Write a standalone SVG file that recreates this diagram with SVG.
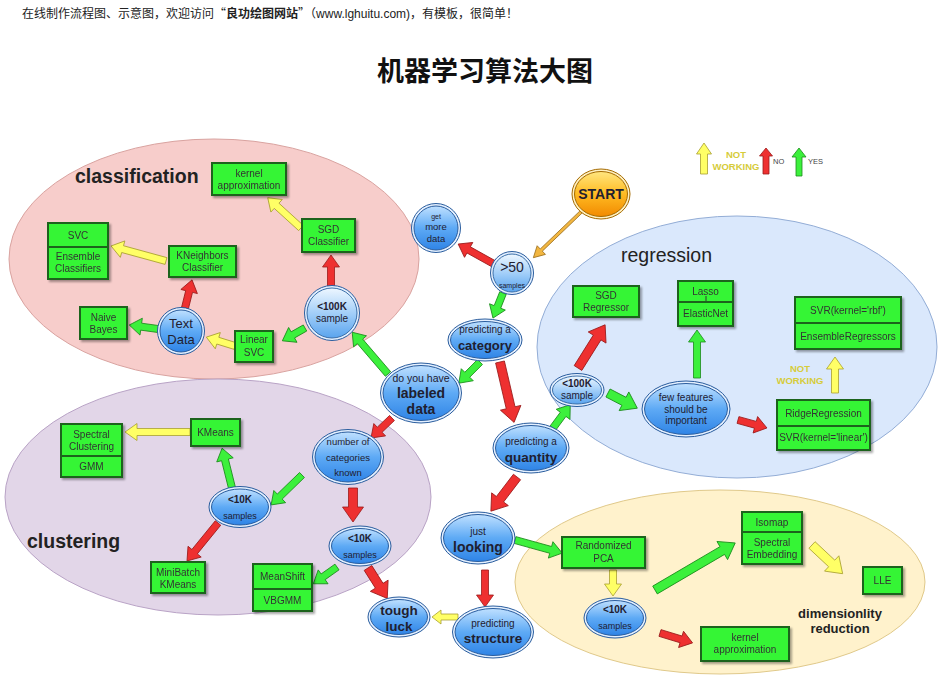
<svg xmlns="http://www.w3.org/2000/svg" width="944" height="684" viewBox="0 0 944 684">
<defs>
<linearGradient id="gb" x1="0" y1="0" x2="0" y2="1"><stop offset="0" stop-color="#bfe0ff"/><stop offset="0.5" stop-color="#5eaaf5"/><stop offset="1" stop-color="#2f84e6"/></linearGradient>
<linearGradient id="gp" x1="0" y1="0" x2="0" y2="1"><stop offset="0" stop-color="#eef7ff"/><stop offset="0.55" stop-color="#9ccbf8"/><stop offset="1" stop-color="#5aa4ee"/></linearGradient>
<linearGradient id="go" x1="0" y1="0" x2="0" y2="1"><stop offset="0" stop-color="#ffe680"/><stop offset="0.5" stop-color="#ffbb22"/><stop offset="1" stop-color="#f28a00"/></linearGradient>
<filter id="sh" x="-20%" y="-20%" width="140%" height="150%"><feDropShadow dx="2" dy="2" stdDeviation="1" flood-color="#000" flood-opacity="0.35"/></filter>
<style>
.t{font-family:"Liberation Sans",Arial,sans-serif;text-anchor:middle;fill:#1f2030}
.b{font-weight:bold}
.bx{fill:#36f536;stroke:#1d641d;stroke-width:2}
.bt{font-family:"Liberation Sans",Arial,sans-serif;font-size:10px;text-anchor:middle;fill:#333}
.o{fill:#e4f0ff;stroke:#2a5d9e;stroke-width:1}
.i{fill:url(#gb);stroke:#2a5d9e;stroke-width:1}
.ip{fill:url(#gp);stroke:#3a6ea8;stroke-width:1}
.r{fill:#ee3030;stroke:#9a1a1a;stroke-width:0.8}
.g{fill:#3cf03c;stroke:#1a8a1a;stroke-width:0.8}
.y{fill:#ffff66;stroke:#a8a030;stroke-width:0.8}
.lbl{font-family:"Liberation Sans",Arial,sans-serif;fill:#222}
.nw{font-family:"Liberation Sans",Arial,sans-serif;font-weight:bold;font-size:9.5px;fill:#d6cc3a;text-anchor:middle}
</style>
</defs>
<rect width="944" height="684" fill="#fff"/>

<text x="22" y="18" font-family="'Noto Sans CJK SC','Liberation Sans',sans-serif" font-size="12" fill="#222">在线制作流程图、示意图，欢迎访问“<tspan font-weight="bold">良功绘图网站</tspan>”（<tspan font-family="'Liberation Sans',sans-serif">www.lghuitu.com)</tspan>，有模板，很简单！</text>
<text x="485" y="81" font-family="'Noto Sans CJK SC',sans-serif" font-size="27" font-weight="bold" text-anchor="middle" fill="#111">机器学习算法大图</text>

<g id="regions">
<ellipse cx="214" cy="259" rx="205" ry="120" fill="#f7cdcb" stroke="#d9a3a0" stroke-width="1"/>
<ellipse cx="218" cy="497" rx="213" ry="118" fill="#e2d6e8" stroke="#b9a3c6" stroke-width="1"/>
<ellipse cx="737" cy="347" rx="200" ry="131" fill="#dae8fc" stroke="#93add6" stroke-width="1"/>
<ellipse cx="720" cy="582" rx="205" ry="92" fill="#fff2cc" stroke="#e0c98a" stroke-width="1"/>
<text class="lbl" x="75" y="183" font-size="19.5" font-weight="bold">classification</text>
<text class="lbl" x="621" y="262" font-size="19.5">regression</text>
<text class="lbl" x="27" y="548" font-size="19.5" font-weight="bold">clustering</text>
<text class="lbl" x="840" y="618" font-size="13" font-weight="bold" text-anchor="middle">dimensionlity</text>
<text class="lbl" x="840" y="633" font-size="13" font-weight="bold" text-anchor="middle">reduction</text>
</g>

<g id="legend">
<path class="y" transform="translate(704,174) rotate(-90)" d="M0,-3.5H20V-7.5L31,0L20,7.5V3.5H0Z"/>
<text class="nw" x="736" y="158">NOT</text>
<text class="nw" x="736" y="170">WORKING</text>
<path class="r" transform="translate(766,174) rotate(-90)" d="M0,-3H18V-6.5L26,0L18,6.5V3H0Z"/>
<text x="773" y="164" font-family="'Liberation Sans',Arial,sans-serif" font-size="7.5" fill="#444">NO</text>
<path class="g" transform="translate(799,176) rotate(-90)" d="M0,-3H19V-7L28,0L19,7V3H0Z"/>
<text x="808" y="164" font-family="'Liberation Sans',Arial,sans-serif" font-size="7.5" fill="#444">YES</text>
</g>

<g id="connectors">
<path transform="translate(581,212) rotate(136.2)" d="M0,-1.5H55V-6L66,0L55,6V1.5H0Z" fill="#f2b640" stroke="#9c7020" stroke-width="0.8"/>
<path class="r" transform="translate(494,264) rotate(-150.9)" d="M0,-3.5H29V-8.5L41,0L29,8.5V3.5H0Z"/>
<path class="g" transform="translate(503,293) rotate(111.8)" d="M0,-3.5H15V-8.5L27,0L15,8.5V3.5H0Z"/>
<path class="g" transform="translate(480,362) rotate(135)" d="M0,-3.5H18V-8.5L30,0L18,8.5V3.5H0Z"/>
<path class="r" transform="translate(500,362) rotate(76.9)" d="M0,-4.5H47V-10.5L62,0L47,10.5V4.5H0Z"/>
<path class="g" transform="translate(388,374) rotate(-130.6)" d="M0,-3.5H43V-8.5L55,0L43,8.5V3.5H0Z"/>
<path class="r" transform="translate(331,286) rotate(-90)" d="M0,-3.5H19V-8.5L31,0L19,8.5V3.5H0Z"/>
<path class="y" transform="translate(301,228) rotate(-137.7)" d="M0,-3.5H33V-8.5L45,0L33,8.5V3.5H0Z"/>
<path class="g" transform="translate(305,328) rotate(150.5)" d="M0,-3.5H14V-8.5L26,0L14,8.5V3.5H0Z"/>
<path class="y" transform="translate(235,346) rotate(-162.8)" d="M0,-3.5H18V-8.5L30,0L18,8.5V3.5H0Z"/>
<path class="g" transform="translate(158,329) rotate(-172.1)" d="M0,-3.5H17V-8.5L29,0L17,8.5V3.5H0Z"/>
<path class="r" transform="translate(185,308) rotate(-76)" d="M0,-3.5H17V-8.5L29,0L17,8.5V3.5H0Z"/>
<path class="y" transform="translate(166,261) rotate(-164.7)" d="M0,-3.5H45V-8.5L57,0L45,8.5V3.5H0Z"/>
<path class="r" transform="translate(392,418) rotate(136.4)" d="M0,-3.5H17V-8.5L29,0L17,8.5V3.5H0Z"/>
<path class="r" transform="translate(353,488) rotate(90)" d="M0,-4.5H19V-10.5L34,0L19,10.5V4.5H0Z"/>
<path class="g" transform="translate(302,475) rotate(135.9)" d="M0,-3.5H31V-8.5L43,0L31,8.5V3.5H0Z"/>
<path class="g" transform="translate(232,488) rotate(-104)" d="M0,-3.5H29V-8.5L41,0L29,8.5V3.5H0Z"/>
<path class="y" transform="translate(190,432) rotate(180)" d="M0,-3.5H53V-8.5L65,0L53,8.5V3.5H0Z"/>
<path class="r" transform="translate(218,523) rotate(129.2)" d="M0,-3.5H37V-8.5L49,0L37,8.5V3.5H0Z"/>
<path class="g" transform="translate(337,567) rotate(144.7)" d="M0,-3.5H17V-8.5L29,0L17,8.5V3.5H0Z"/>
<path class="r" transform="translate(368,568) rotate(57.7)" d="M0,-4.5H21V-10.5L36,0L21,10.5V4.5H0Z"/>
<path class="r" transform="translate(517,477) rotate(127.4)" d="M0,-4.5H28V-10.5L43,0L28,10.5V4.5H0Z"/>
<path class="g" transform="translate(553,428) rotate(-53.5)" d="M0,-3.5H17V-8.5L29,0L17,8.5V3.5H0Z"/>
<path class="r" transform="translate(578,368) rotate(-57.9)" d="M0,-4.5H36V-10.5L51,0L36,10.5V4.5H0Z"/>
<path class="g" transform="translate(608,393) rotate(27.4)" d="M0,-4.5H18V-10.5L33,0L18,10.5V4.5H0Z"/>
<path class="g" transform="translate(697,378) rotate(-90)" d="M0,-3.5H36V-8.5L48,0L36,8.5V3.5H0Z"/>
<path class="r" transform="translate(738,420) rotate(15.4)" d="M0,-3.5H18V-8.5L30,0L18,8.5V3.5H0Z"/>
<path class="y" transform="translate(835,393) rotate(-90)" d="M0,-3.5H24V-8.5L36,0L24,8.5V3.5H0Z"/>
<path class="g" transform="translate(515,540) rotate(15.5)" d="M0,-3.5H37V-8.5L49,0L37,8.5V3.5H0Z"/>
<path class="r" transform="translate(485,570) rotate(90)" d="M0,-3.5H25V-8.5L37,0L25,8.5V3.5H0Z"/>
<path class="y" transform="translate(458,617) rotate(180)" d="M0,-3H17V-7L26,0L17,7V3H0Z"/>
<path class="y" transform="translate(613,570) rotate(90)" d="M0,-3.5H14V-8.5L26,0L14,8.5V3.5H0Z"/>
<path class="r" transform="translate(660,633) rotate(16.9)" d="M0,-3.5H22V-8.5L34,0L22,8.5V3.5H0Z"/>
<path class="g" transform="translate(655,590) rotate(-30.4)" d="M0,-4.5H78V-10.5L93,0L78,10.5V4.5H0Z"/>
<path class="y" transform="translate(812,545) rotate(43.1)" d="M0,-4.5H27V-10.5L42,0L27,10.5V4.5H0Z"/>
</g>

<g id="boxes" filter="url(#sh)">
<g id="kernel-approx-class"><rect class="bx" x="212" y="163" width="74" height="32"/><text class="bt" x="249" y="177">kernel</text><text class="bt" x="249" y="189">approximation</text></g>
<g id="sgd-classifier"><rect class="bx" x="302" y="219" width="53" height="33"/><text class="bt" x="328.5" y="233">SGD</text><text class="bt" x="328.5" y="245">Classifier</text></g>
<g id="svc"><rect class="bx" x="48" y="223" width="60" height="24"/><text class="bt" x="78" y="239">SVC</text><rect class="bx" x="48" y="247" width="60" height="32"/><text class="bt" x="78" y="260">Ensemble</text><text class="bt" x="78" y="272">Classifiers</text></g>
<g id="kneighbors"><rect class="bx" x="169" y="246" width="67" height="31"/><text class="bt" x="202.5" y="259">KNeighbors</text><text class="bt" x="202.5" y="271">Classifier</text></g>
<g id="naive-bayes"><rect class="bx" x="80" y="307" width="47" height="32"/><text class="bt" x="103.5" y="321">Naive</text><text class="bt" x="103.5" y="333">Bayes</text></g>
<g id="linear-svc"><rect class="bx" x="235" y="331" width="38" height="31"/><text class="bt" x="254" y="343">Linear</text><text class="bt" x="254" y="356">SVC</text></g>
<g id="sgd-regressor"><rect class="bx" x="573" y="286" width="66" height="31"/><text class="bt" x="606" y="299">SGD</text><text class="bt" x="606" y="311">Regressor</text></g>
<g id="lasso"><rect class="bx" x="678" y="281" width="55" height="21"/><text class="bt" x="705.5" y="295">Lasso</text><line x1="706" y1="296" x2="706" y2="302" stroke="#333" stroke-width="1"/><rect class="bx" x="678" y="302" width="55" height="24"/><text class="bt" x="705.5" y="317">ElasticNet</text></g>
<g id="svr-rbf"><rect class="bx" x="795" y="297" width="106" height="26"/><text class="bt" x="848" y="314">SVR(kernel='rbf')</text><rect class="bx" x="795" y="323" width="106" height="26"/><text class="bt" x="848" y="340">EnsembleRegressors</text></g>
<g id="ridge"><rect class="bx" x="777" y="400" width="93" height="26"/><text class="bt" x="823.5" y="417">RidgeRegression</text><rect class="bx" x="777" y="426" width="93" height="24"/><text class="bt" x="823.5" y="441">SVR(kernel='linear')</text></g>
<g id="spectral-clustering"><rect class="bx" x="61" y="424" width="61" height="32"/><text class="bt" x="91.5" y="438">Spectral</text><text class="bt" x="91.5" y="450">Clustering</text><rect class="bx" x="61" y="456" width="61" height="21"/><text class="bt" x="91.5" y="470">GMM</text></g>
<g id="kmeans"><rect class="bx" x="191" y="419" width="49" height="27"/><text class="bt" x="215.5" y="436">KMeans</text></g>
<g id="minibatch"><rect class="bx" x="151" y="562" width="54" height="31"/><text class="bt" x="178" y="576">MiniBatch</text><text class="bt" x="178" y="588">KMeans</text></g>
<g id="meanshift"><rect class="bx" x="253" y="564" width="59" height="25"/><text class="bt" x="282.5" y="580">MeanShift</text><rect class="bx" x="253" y="589" width="59" height="22"/><text class="bt" x="282.5" y="604">VBGMM</text></g>
<g id="randomized-pca"><rect class="bx" x="562" y="537" width="83" height="31"/><text class="bt" x="603.5" y="549">Randomized</text><text class="bt" x="603.5" y="562">PCA</text></g>
<g id="isomap"><rect class="bx" x="742" y="512" width="60" height="20"/><text class="bt" x="772" y="526">Isomap</text><rect class="bx" x="742" y="532" width="60" height="32"/><text class="bt" x="772" y="546">Spectral</text><text class="bt" x="772" y="558">Embedding</text></g>
<g id="lle"><rect class="bx" x="863" y="567" width="39" height="27"/><text class="bt" x="882.5" y="584">LLE</text></g>
<g id="kernel-approx-dim"><rect class="bx" x="701" y="627" width="88" height="34"/><text class="bt" x="745" y="641">kernel</text><text class="bt" x="745" y="653">approximation</text></g>
</g>

<g id="not-working-reg"><text class="nw" x="800" y="372" font-size="10">NOT</text><text class="nw" x="800" y="384" font-size="10">WORKING</text></g>

<g id="start"><ellipse cx="601" cy="194" rx="29" ry="25" fill="#fff0c0" stroke="#a56a00"/><ellipse cx="601" cy="194" rx="26.5" ry="22.5" fill="url(#go)" stroke="#a56a00"/><text class="t b" x="601" y="199" font-size="14" fill="#2a2010">START</text></g>
<g id="get-more-data"><ellipse class="o" cx="436" cy="228" rx="24.5" ry="24.5"/><ellipse class="i" cx="436" cy="228" rx="22" ry="22"/><text class="t" x="436" y="219" font-size="7">get</text><text class="t" x="436" y="230" font-size="9.5">more</text><text class="t" x="436" y="242" font-size="9.5">data</text></g>
<g id="gt50"><ellipse class="o" cx="512" cy="273" rx="21.5" ry="21.5"/><ellipse class="ip" cx="512" cy="273" rx="19" ry="19"/><text class="t" x="512" y="272" font-size="14">&gt;50</text><text class="t" x="512" y="288" font-size="7">samples</text></g>
<g id="predicting-category"><ellipse class="o" cx="485" cy="340" rx="37" ry="21"/><ellipse class="i" cx="485" cy="340" rx="34.5" ry="18.5"/><text class="t" x="485" y="333" font-size="10">predicting a</text><text class="t b" x="485" y="350" font-size="13">category</text></g>
<g id="labeled-data"><ellipse class="o" cx="421" cy="393" rx="40.5" ry="30"/><ellipse class="i" cx="421" cy="393" rx="38" ry="27.5"/><text class="t" x="421" y="382" font-size="10.5">do you have</text><text class="t b" x="421" y="398" font-size="14">labeled</text><text class="t b" x="421" y="414" font-size="14">data</text></g>
<g id="lt100k-class"><ellipse class="o" cx="332" cy="313" rx="27.5" ry="27.5"/><ellipse class="ip" cx="332" cy="313" rx="25" ry="25"/><text class="t b" x="332" y="310" font-size="10">&lt;100K</text><text class="t" x="332" y="322" font-size="10">sample</text></g>
<g id="text-data"><ellipse class="o" cx="181" cy="331" rx="23.5" ry="23.5"/><ellipse class="i" cx="181" cy="331" rx="21" ry="21"/><text class="t" x="181" y="328" font-size="13">Text</text><text class="t" x="181" y="344" font-size="13">Data</text></g>
<g id="predicting-quantity"><ellipse class="o" cx="531" cy="448" rx="38" ry="25"/><ellipse class="i" cx="531" cy="448" rx="35.5" ry="22.5"/><text class="t" x="531" y="445" font-size="10">predicting a</text><text class="t b" x="531" y="462" font-size="13.5">quantity</text></g>
<g id="lt100k-reg"><ellipse class="o" cx="577" cy="390" rx="27" ry="16.5"/><ellipse class="ip" cx="577" cy="390" rx="24.5" ry="14"/><text class="t b" x="577" y="387" font-size="10">&lt;100K</text><text class="t" x="577" y="399" font-size="10">sample</text></g>
<g id="few-features"><ellipse class="o" cx="686" cy="409" rx="44" ry="28"/><ellipse class="i" cx="686" cy="409" rx="41.5" ry="25.5"/><text class="t" x="686" y="401" font-size="10">few features</text><text class="t" x="686" y="413" font-size="10">should be</text><text class="t" x="686" y="424" font-size="10">important</text></g>
<g id="number-of-categories"><ellipse class="o" cx="348" cy="457" rx="35.5" ry="27.5"/><ellipse class="i" cx="348" cy="457" rx="33" ry="25"/><text class="t" x="348" y="445" font-size="9.5">number of</text><text class="t" x="348" y="461" font-size="9.5">categories</text><text class="t" x="348" y="476" font-size="9.5">known</text></g>
<g id="lt10k-left"><ellipse class="o" cx="240" cy="507" rx="31" ry="20.5"/><ellipse class="i" cx="240" cy="507" rx="28.5" ry="18"/><text class="t b" x="240" y="503" font-size="10">&lt;10K</text><text class="t" x="240" y="519" font-size="9">samples</text></g>
<g id="lt10k-mid"><ellipse class="o" cx="360" cy="546" rx="31" ry="20"/><ellipse class="i" cx="360" cy="546" rx="28.5" ry="17.5"/><text class="t b" x="360" y="542" font-size="10">&lt;10K</text><text class="t" x="360" y="558" font-size="9">samples</text></g>
<g id="tough-luck"><ellipse class="o" cx="399" cy="617" rx="31" ry="20"/><ellipse class="i" cx="399" cy="617" rx="28.5" ry="17.5"/><text class="t b" x="399" y="615" font-size="13.5">tough</text><text class="t b" x="399" y="631" font-size="13.5">luck</text></g>
<g id="just-looking"><ellipse class="o" cx="478" cy="538" rx="37" ry="26"/><ellipse class="i" cx="478" cy="538" rx="34.5" ry="23.5"/><text class="t" x="478" y="535" font-size="10">just</text><text class="t b" x="478" y="552" font-size="14">looking</text></g>
<g id="predicting-structure"><ellipse class="o" cx="493" cy="632" rx="40.5" ry="26"/><ellipse class="i" cx="493" cy="632" rx="38" ry="23.5"/><text class="t" x="493" y="627" font-size="10">predicting</text><text class="t b" x="493" y="643" font-size="13.5">structure</text></g>
<g id="lt10k-dim"><ellipse class="o" cx="615" cy="618" rx="31" ry="20"/><ellipse class="i" cx="615" cy="618" rx="28.5" ry="17.5"/><text class="t b" x="615" y="613" font-size="10">&lt;10K</text><text class="t" x="615" y="629" font-size="9">samples</text></g>
</svg>
